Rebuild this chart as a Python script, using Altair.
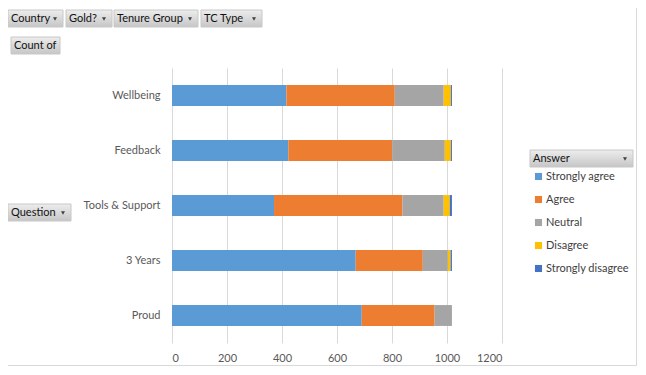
import altair as alt
import pandas as pd

questions = ["Wellbeing", "Feedback", "Tools & Support", "3 Years", "Proud"]
answers = ["Strongly agree", "Agree", "Neutral", "Disagree", "Strongly disagree"]
colors = ["#5B9BD5", "#ED7D31", "#A5A5A5", "#FFC000", "#4472C4"]
strongly_agree = [416, 423, 371, 668, 690]
agree = [394, 378, 467, 244, 265]
neutral = [178, 191, 150, 91, 63]
disagree = [26, 22, 22, 10, 0]
strongly_disagree = [4, 4, 8, 5, 0]
x_ticks = [0, 200, 400, 600, 800, 1000, 1200]

series = [strongly_agree, agree, neutral, disagree, strongly_disagree]
rows = []
for ai, (a, vals) in enumerate(zip(answers, series)):
    for q, v in zip(questions, vals):
        rows.append({"Question": q, "Answer": a, "Count": v, "order": ai})
df = pd.DataFrame(rows)
one = pd.DataFrame({"k": [0]})

FONT = "Lato"
OX, OY = 172, 68  # page position of plot origin
W, H = 330, 275
SVG_W, SVG_H = 630, 359

bars = alt.Chart(df).mark_bar().encode(
    y=alt.Y("Question:N", sort=questions, title=None,
            scale=alt.Scale(paddingInner=0.62, paddingOuter=0.31),
            axis=alt.Axis(ticks=False, domain=False, labelPadding=12,
                          labelFontSize=11, labelColor="#595959", labelFont=FONT)),
    x=alt.X("Count:Q", stack="zero", title=None,
            scale=alt.Scale(domain=[0, 1200], nice=False),
            axis=alt.Axis(values=x_ticks, format="d", ticks=False, domain=False, labelPadding=9,
                          labelFontSize=11, labelColor="#595959", labelFont=FONT,
                          gridColor="#d9d9d9", gridWidth=1)),
    color=alt.Color("Answer:N", sort=answers,
                    scale=alt.Scale(domain=answers, range=colors),
                    legend=alt.Legend(title=None, orient="none",
                                      legendX=361, legendY=103,
                                      symbolType="square", symbolSize=50,
                                      symbolStrokeWidth=0,
                                      labelFontSize=11, labelColor="#404040",
                                      labelFont=FONT, rowPadding=11, labelOffset=2)),
    order=alt.Order("order:Q", sort="ascending"),
)

grad = alt.LinearGradient(gradient="linear",
                          stops=[alt.GradientStop(color="#ededed", offset=0),
                                 alt.GradientStop(color="#c6c6c6", offset=1)],
                          x1=0, x2=0, y1=0, y2=1)

layers = [bars]

def button(x0, y0, x1, y1, label, arrow=True, arrow_x=None):
    r = alt.Chart(one).mark_rect(fill=grad, stroke="#c8c8c8", strokeWidth=1).encode(
        x=alt.value(x0 - OX), x2=alt.value(x1 - OX),
        y=alt.value(y0 - OY), y2=alt.value(y1 - OY))
    t = alt.Chart(one).mark_text(align="left", baseline="middle", font=FONT,
                                 fontSize=11, color="#111111", text=label).encode(
        x=alt.value(x0 + 3 - OX), y=alt.value((y0 + y1) / 2 - OY + 0.5))
    out = [r, t]
    if arrow:
        ax = arrow_x if arrow_x is not None else x1 - 8
        p = alt.Chart(one).mark_point(shape="triangle-down", filled=True, size=16,
                                      color="#404040", opacity=1).encode(
            x=alt.value(ax - OX), y=alt.value((y0 + y1) / 2 - OY + 0.5))
        out.append(p)
    return out

layers += button(8, 10, 63, 27, "Country")
layers += button(66, 10, 112, 27, "Gold?")
layers += button(114, 10, 198, 27, "Tenure Group")
layers += button(201, 10, 262, 27, "TC Type")
layers += button(11, 37, 60, 54, "Count of", arrow=False)
layers += button(8, 204, 71, 221, "Question")
layers += button(530, 150, 633, 167, "Answer", arrow_x=625)

right_x = 8 + SVG_W - 1.5
bottom_y = 8 + SVG_H - 1.5
border = alt.Chart(one).mark_rule(color="#d9d9d9", strokeWidth=1).encode(
    x=alt.value(right_x - OX), y=alt.value(8 - OY), y2=alt.value(bottom_y - OY))
border2 = alt.Chart(one).mark_rule(color="#d9d9d9", strokeWidth=1).encode(
    x=alt.value(8 - OX), x2=alt.value(right_x - OX), y=alt.value(bottom_y - OY))
layers += [border, border2]

chart = alt.layer(*layers).properties(
    width=W, height=H,
    autosize=alt.AutoSizeParams(type="none"),
    padding={"left": OX - 8, "top": OY - 8,
             "right": SVG_W - (OX - 8) - W, "bottom": SVG_H - (OY - 8) - H},
    background="white",
).configure_view(stroke=None)

chart.save("out.html", embed_options={"renderer": "svg", "actions": False})
